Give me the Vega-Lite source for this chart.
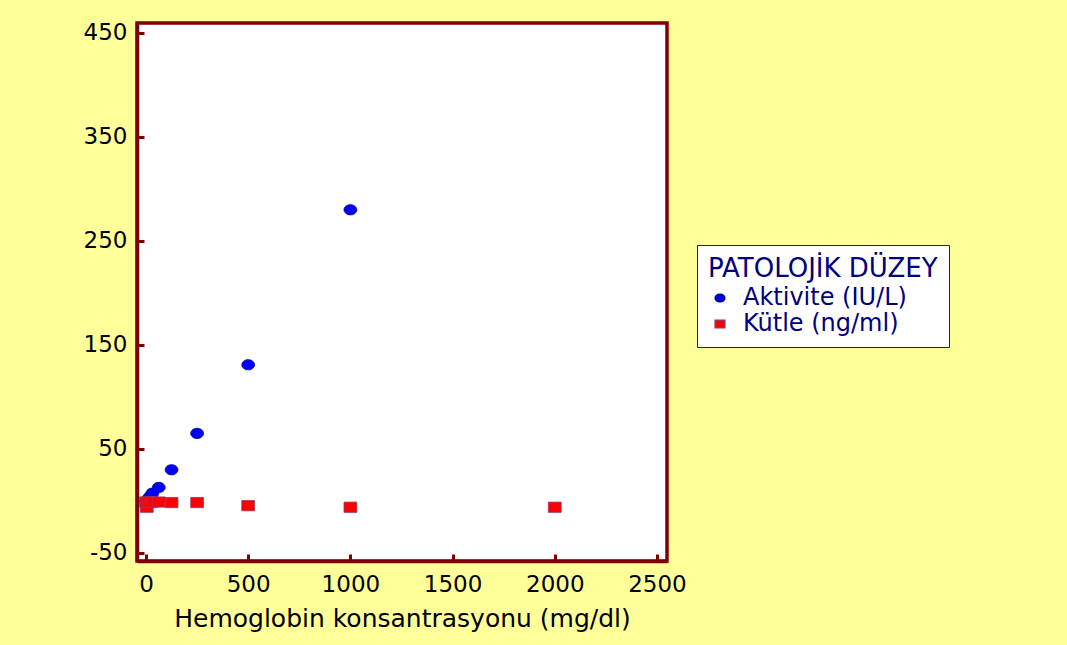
{
  "$schema": "https://vega.github.io/schema/vega-lite/v6.json",
  "width": 530,
  "height": 538,
  "autosize": {"type": "none"},
  "padding": {"left": 137, "top": 23, "right": 400, "bottom": 84},
  "background": "#FFFF99",
  "config": {
    "font": "DejaVu Sans",
    "view": {"fill": "white", "stroke": "#800000", "strokeWidth": 3.5}
  },
  "data": {
    "values": [
      {"hemoglobin": 0, "deger": 0, "seri": "Aktivite (IU/L)"},
      {"hemoglobin": 15.6, "deger": 3.5, "seri": "Aktivite (IU/L)"},
      {"hemoglobin": 31.25, "deger": 7.5, "seri": "Aktivite (IU/L)"},
      {"hemoglobin": 62.5, "deger": 13, "seri": "Aktivite (IU/L)"},
      {"hemoglobin": 125, "deger": 30, "seri": "Aktivite (IU/L)"},
      {"hemoglobin": 250, "deger": 65, "seri": "Aktivite (IU/L)"},
      {"hemoglobin": 500, "deger": 131, "seri": "Aktivite (IU/L)"},
      {"hemoglobin": 1000, "deger": 280, "seri": "Aktivite (IU/L)"},
      {"hemoglobin": 0, "deger": -1, "seri": "Kütle (ng/ml)"},
      {"hemoglobin": 3.9, "deger": -6, "seri": "Kütle (ng/ml)"},
      {"hemoglobin": 15.6, "deger": -1, "seri": "Kütle (ng/ml)"},
      {"hemoglobin": 31.25, "deger": -1, "seri": "Kütle (ng/ml)"},
      {"hemoglobin": 62.5, "deger": -1, "seri": "Kütle (ng/ml)"},
      {"hemoglobin": 125, "deger": -1.5, "seri": "Kütle (ng/ml)"},
      {"hemoglobin": 250, "deger": -1.5, "seri": "Kütle (ng/ml)"},
      {"hemoglobin": 500, "deger": -4.5, "seri": "Kütle (ng/ml)"},
      {"hemoglobin": 1000, "deger": -6, "seri": "Kütle (ng/ml)"},
      {"hemoglobin": 2000, "deger": -6, "seri": "Kütle (ng/ml)"}
    ]
  },
  "mark": {"type": "point", "filled": true, "opacity": 1, "size": 105, "strokeWidth": 0.8},
  "encoding": {
    "x": {
      "field": "hemoglobin",
      "type": "quantitative",
      "scale": {"domain": [-44, 2549], "nice": false, "zero": false},
      "axis": {
        "values": [0, 500, 1000, 1500, 2000, 2500],
        "format": "d",
        "title": "Hemoglobin konsantrasyonu (mg/dl)",
        "grid": false,
        "domainColor": "#800000",
        "domainWidth": 3.5,
        "tickColor": "#800000",
        "tickWidth": 3,
        "tickSize": -7,
        "labelPadding": 19,
        "labelFontSize": 23,
        "labelColor": "black",
        "titleFontSize": 25,
        "titleFontWeight": "normal",
        "titleColor": "black",
        "titlePadding": 10
      }
    },
    "y": {
      "field": "deger",
      "type": "quantitative",
      "scale": {"domain": [-57.7, 459.6], "nice": false, "zero": false},
      "axis": {
        "values": [-50, 50, 150, 250, 350, 450],
        "labelExpr": "datum.value < 0 ? '-' + abs(datum.value) : '' + datum.value",
        "title": null,
        "grid": false,
        "domainColor": "#800000",
        "domainWidth": 3.5,
        "tickColor": "#800000",
        "tickWidth": 3,
        "tickSize": -7,
        "labelPadding": 17,
        "labelFontSize": 23,
        "labelColor": "black"
      }
    },
    "color": {
      "field": "seri",
      "type": "nominal",
      "scale": {"domain": ["Aktivite (IU/L)", "Kütle (ng/ml)"], "range": ["#0000FF", "#FF0000"]},
      "legend": {
        "title": "PATOLOJİK DÜZEY",
        "orient": "none",
        "legendX": 560,
        "legendY": 222,
        "fillColor": "white",
        "strokeColor": "#800000",
        "padding": 11,
        "titleFontSize": 26,
        "titleFontWeight": "normal",
        "titleColor": "#000080",
        "titlePadding": 4,
        "titleLimit": 600,
        "labelLimit": 600,
        "labelFontSize": 24,
        "labelColor": "#000080",
        "labelOffset": 11,
        "symbolSize": 60,
        "rowPadding": 2,
        "encode": {"legend": {"update": {"strokeWidth": {"value": 2.5}}}}
      }
    },
    "shape": {
      "field": "seri",
      "type": "nominal",
      "scale": {
        "domain": ["Aktivite (IU/L)", "Kütle (ng/ml)"],
        "range": ["M -1.25 0 A 1.25 1 0 1 0 1.25 0 A 1.25 1 0 1 0 -1.25 0 Z", "M -1.25 -1 L 1.25 -1 L 1.25 1 L -1.25 1 Z"]
      }
    },
    "stroke": {
      "field": "seri",
      "type": "nominal",
      "scale": {"domain": ["Aktivite (IU/L)", "Kütle (ng/ml)"], "range": ["#000080", "#993366"]},
      "legend": null
    }
  }
}
